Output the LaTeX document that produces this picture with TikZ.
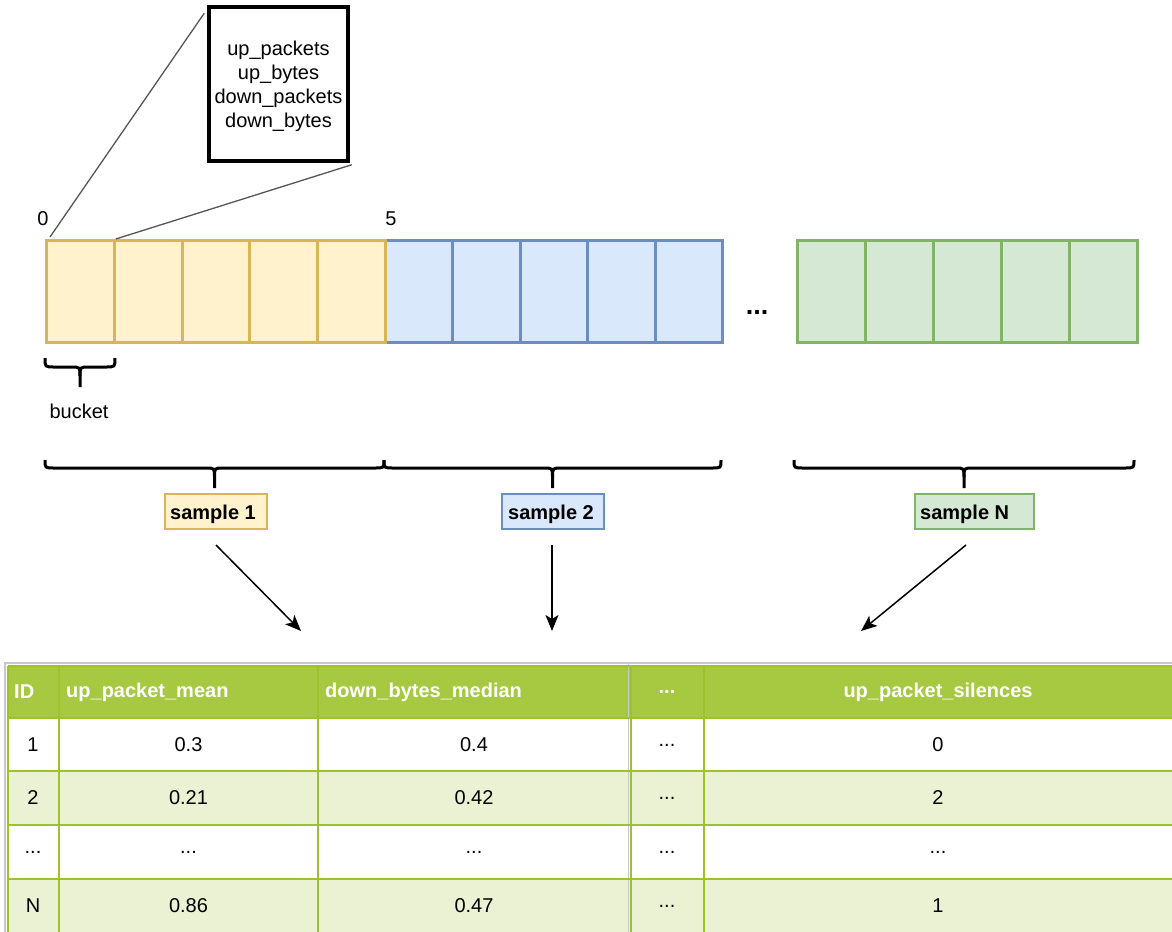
\documentclass[tikz,border=0pt]{standalone}
\usepackage{fontspec}
\setmainfont{Liberation Sans}
\usetikzlibrary{arrows.meta,calc}

\definecolor{ylwfill}{HTML}{FFF2CC}
\definecolor{ylwline}{HTML}{D6B656}
\definecolor{bluefill}{HTML}{DAE8FC}
\definecolor{blueline}{HTML}{6C8EBF}
\definecolor{grnfill}{HTML}{D5E8D4}
\definecolor{grnline}{HTML}{82B366}
\definecolor{hdrgreen}{HTML}{A7C942}
\definecolor{rowalt}{HTML}{EAF2D3}
\definecolor{tabgreen}{HTML}{9DC22E}
\definecolor{framegray}{HTML}{C8C8C8}
\definecolor{leadgray}{HTML}{555555}

\newcommand\cellgap{...}

% horizontal curly brace: x1, x2, y of ends, y of flat part, y of tip
\newcommand\curlybrace[5]{%
  \pgfmathsetmacro\bracemid{(#1+#2)/2}%
  \draw[bracestyle] (#1,#3) .. controls (#1,#4) .. (#1+9,#4) -- (\bracemid-9,#4)
        .. controls (\bracemid,#4) .. (\bracemid,#4+9) -- (\bracemid,#5);
  \draw[bracestyle] (#2,#3) .. controls (#2,#4) .. (#2-9,#4) -- (\bracemid+9,#4)
        .. controls (\bracemid,#4) .. (\bracemid,#4+9);
}

\tikzset{
  bucketcell/.style={minimum width=#1, minimum height=102bp, inner sep=0pt, line width=3bp},
  bracestyle/.style={line width=3bp, black},
  samplebox/.style={minimum height=35bp, inner sep=0pt, line width=1.5bp},
  sampletext/.style={anchor=base west, inner sep=0pt, font=\fontsize{20bp}{24bp}\selectfont\bfseries},
  leader/.style={leadgray, line width=1.3bp},
  flowarrow/.style={line width=1.5bp, -{Stealth[length=16bp, width=13bp, inset=4bp]}},
  tabline/.style={tabgreen, line width=2.2bp},
  hdrtext/.style={text=white, font=\fontsize{20bp}{24bp}\selectfont\bfseries, inner sep=0pt},
  celltext/.style={font=\fontsize{20bp}{24bp}\selectfont, inner sep=0pt},
}

\begin{document}
\begin{tikzpicture}[x=1bp, y=-1bp, font=\fontsize{20bp}{24bp}\selectfont]
\useasboundingbox (0,0) rectangle (1172,932);

% ---- bucket rows ----
\foreach \i in {1,2,3,4,5} {
  \node[bucketcell=67.4bp, fill=bluefill, draw=blueline, anchor=north west]
    (b\i) at ({384+(\i-1)*67.4},239) {};
}
\foreach \i in {1,2,3,4,5} {
  \node[bucketcell=67.8bp, fill=ylwfill, draw=ylwline, anchor=north west]
    (y\i) at ({45+(\i-1)*67.8},239) {};
}
\foreach \i in {1,2,3,4,5} {
  \node[bucketcell=68bp, fill=grnfill, draw=grnline, anchor=north west]
    (g\i) at ({796+(\i-1)*68},239) {};
}
\node[font=\fontsize{27bp}{30bp}\selectfont\bfseries, anchor=base, inner sep=0pt]
  (gap) at (757,314) {\cellgap};

\node (lbl0) at (43,219) {0};
\node (lbl5) at (391,219) {5};

% ---- zoomed bucket contents ----
\node[draw, line width=3.5bp, minimum width=139bp, minimum height=154bp, inner sep=0pt]
  (zoom) at (278.5,84) {};
\node[align=center, inner sep=0pt] (zoomtext) at (278.5,86.5)
  {up\_packets\\up\_bytes\\down\_packets\\down\_bytes};
\draw[leader] ($(y1.north west)+(5,-2)$) -- ($(zoom.north west)+(-3,8)$);
\draw[leader] (y1.north east) -- ($(zoom.south east)+(2,2)$);

% ---- braces ----
\curlybrace{45}{115}{358}{367}{387}
\node (bucketlbl) at (79,411) {bucket};
\curlybrace{45}{384}{460}{468}{488}
\curlybrace{384}{721}{460}{468}{488}
\curlybrace{794}{1134}{460}{468}{488}

% ---- samples ----
\node[samplebox, fill=ylwfill, draw=ylwline, minimum width=102bp] (s1) at (216,511.5) {};
\node[sampletext] (s1t) at (170,519) {sample 1};
\node[samplebox, fill=bluefill, draw=blueline, minimum width=102bp] (s2) at (553,511.5) {};
\node[sampletext] (s2t) at (508,519) {sample 2};
\node[samplebox, fill=grnfill, draw=grnline, minimum width=119bp] (sN) at (974.5,511.5) {};
\node[sampletext] (sNt) at (920,519) {sample N};

\coordinate (a1s) at (216,545);  \coordinate (a1e) at (301,631);
\coordinate (a2s) at (552,545);  \coordinate (a2e) at (552,631);
\coordinate (a3s) at (966,545);  \coordinate (a3e) at (861,631);
\draw[flowarrow] (a1s) -- (a1e);
\draw[flowarrow] (a2s) -- (a2e);
\draw[flowarrow] (a3s) -- (a3e);

% ---- feature table ----
\fill[hdrgreen] (8,666) rectangle (1172,718);
\fill[rowalt] (8,771) rectangle (1172,825);
\fill[rowalt] (8,879) rectangle (1172,932);
\draw[framegray, line width=1.5bp] (5,932) -- (5,663) -- (1172,663);
\draw[framegray, line width=1.2bp] (628.5,663) -- (628.5,932);
\foreach \yy in {666,718,771,825,879} {
  \draw[tabline] (8,\yy) -- (1172,\yy);
}
\foreach \xx in {8,59,318,631,704} {
  \draw[tabline] (\xx,666) -- (\xx,932);
}

% header
\node[hdrtext, anchor=west] (hID) at (14,692) {ID};
\node[hdrtext, anchor=west] (hMean) at (66,692) {up\_packet\_mean};
\node[hdrtext, anchor=west] (hMed) at (325,692) {down\_bytes\_median};
\node[hdrtext] (hDots) at (667,692) {\cellgap};
\node[hdrtext] (hSil) at (938,692) {up\_packet\_silences};

% rows
\foreach \r/\yy/\id/\va/\vb/\vc in {1/745/1/0.3/0.4/0,
                                      2/798/2/0.21/0.42/2,
                                      3/852/\cellgap/\cellgap/\cellgap/\cellgap,
                                      4/906/N/0.86/0.47/1} {
  \node[celltext] (r\r id) at (33,\yy) {\id};
  \node[celltext] (r\r a) at (188.5,\yy) {\va};
  \node[celltext] (r\r b) at (474,\yy) {\vb};
  \node[celltext] (r\r d) at (667,\yy) {\cellgap};
  \node[celltext] (r\r c) at (938,\yy) {\vc};
}
\end{tikzpicture}
\end{document}
